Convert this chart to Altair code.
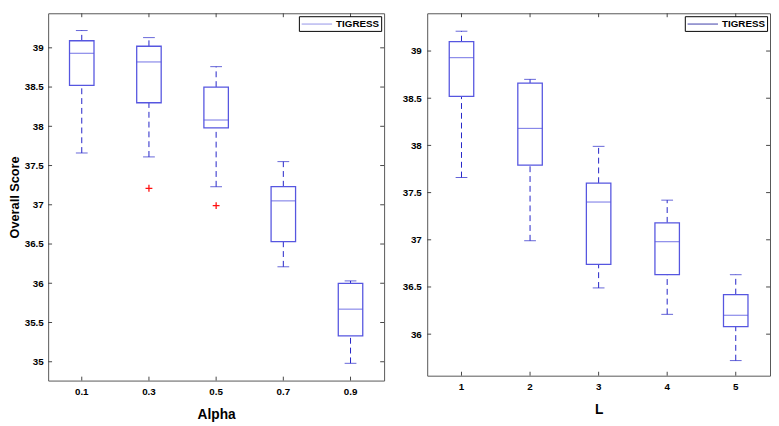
import altair as alt
import pandas as pd

# ---- data: left panel (Alpha) ----
alpha_cats = ["0.1", "0.3", "0.5", "0.7", "0.9"]
alpha_upper = [39.22, 39.13, 38.76, 37.55, 36.03]
alpha_q3 = [39.09, 39.02, 38.50, 37.23, 36.00]
alpha_med = [38.93, 38.82, 38.08, 37.05, 35.67]
alpha_q1 = [38.52, 38.30, 37.98, 36.53, 35.33]
alpha_lower = [37.66, 37.61, 37.23, 36.21, 34.98]
alpha_out_cats = ["0.3", "0.5"]
alpha_out_vals = [37.21, 36.99]
alpha_yticks = [35, 35.5, 36, 36.5, 37, 37.5, 38, 38.5, 39]
alpha_ydomain = [34.76, 39.44]

# ---- data: right panel (L) ----
l_cats = ["1", "2", "3", "4", "5"]
l_upper = [39.21, 38.70, 37.99, 37.42, 36.63]
l_q3 = [39.10, 38.66, 37.60, 37.18, 36.42]
l_med = [38.93, 38.18, 37.40, 36.98, 36.20]
l_q1 = [38.52, 37.79, 36.74, 36.63, 36.08]
l_lower = [37.66, 36.99, 36.49, 36.21, 35.72]
l_yticks = [36, 36.5, 37, 37.5, 38, 38.5, 39]
l_ydomain = [35.56, 39.40]

series = "TIGRESS"

FONT = "Liberation Sans"
BOX = "#5656e0"
WHISK = "#2222c8"
RED = "#ff1010"


def panel(cats, upper, q3, med, q1, lower, out_cats, out_vals, ydomain, yticks,
          xtitle, ytitle, W, H, legend_color, label_pad):
    df = pd.DataFrame(dict(cat=cats, upper=upper, q3=q3, med=med, q1=q1,
                           lower=lower, series=[series] * len(cats)))
    yt = pd.DataFrame(dict(tv=yticks))
    xt = pd.DataFrame(dict(cat=cats))

    xs = alt.X("cat:O", sort=cats,
               scale=alt.Scale(paddingInner=0, paddingOuter=0),
               axis=alt.Axis(title=xtitle, labelAngle=0, ticks=False, domain=False,
                             labelPadding=6, titlePadding=12, titleFontSize=14))
    yaxis = alt.Axis(values=yticks, format=".1~f", ticks=False, domain=False,
                     grid=False, labelPadding=label_pad, titlePadding=3,
                     titleFontSize=13)
    if ytitle:
        yaxis.title = ytitle
    else:
        yaxis.title = None
    ys = alt.Y("q3:Q", scale=alt.Scale(domain=ydomain, nice=False, zero=False),
               axis=yaxis)
    xc = alt.X("cat:O", sort=cats)

    base = alt.Chart(df)
    whisk_up = base.mark_rule(color=WHISK, strokeDash=[6, 4], strokeWidth=1).encode(
        x=xs, y=ys, y2="upper:Q")
    whisk_lo = base.mark_rule(color=WHISK, strokeDash=[6, 4], strokeWidth=1).encode(
        x=xc, y="lower:Q", y2="q1:Q")
    box = base.mark_bar(size=25, fill="white", stroke=BOX, strokeWidth=1.3).encode(
        x=xc, y="q1:Q", y2="q3:Q")
    cap_up = base.mark_tick(size=12, thickness=1, color=WHISK).encode(x=xc, y="upper:Q")
    cap_lo = base.mark_tick(size=12, thickness=1, color=WHISK).encode(x=xc, y="lower:Q")
    median = base.mark_tick(size=25, thickness=1.2).encode(
        x=xc, y="med:Q",
        color=alt.Color("series:N",
                        scale=alt.Scale(domain=[series], range=[BOX]),
                        legend=alt.Legend(title=None, orient="top-right", offset=3,
                                          strokeColor="black", fillColor="white",
                                          padding=2, symbolType="M-1,0H5",
                                          symbolSize=107,
                                          symbolStrokeColor=legend_color,
                                          symbolFillColor="transparent",
                                          symbolStrokeWidth=1.2,
                                          labelFont=FONT, labelFontSize=10,
                                          labelFontWeight="bold", labelColor="black",
                                          labelOffset=24)))
    layers = [whisk_up, whisk_lo, box, cap_up, cap_lo, median]

    if out_cats:
        od = pd.DataFrame(dict(cat=out_cats, ov=out_vals))
        outl = alt.Chart(od).mark_point(shape="M-1,0H1M0,-1V1", size=49, stroke=RED,
                                        color=RED, strokeWidth=1.3, filled=False,
                                        opacity=1).encode(x=xc, y="ov:Q")
        layers.append(outl)

    # inward tick marks on all four sides
    tk = dict(color="#444", strokeWidth=1)
    layers += [
        alt.Chart(yt).mark_rule(**tk).encode(y="tv:Q", x=alt.value(0), x2=alt.value(4)),
        alt.Chart(yt).mark_rule(**tk).encode(y="tv:Q", x=alt.value(W - 4), x2=alt.value(W)),
        alt.Chart(xt).mark_rule(**tk).encode(x=xc, y=alt.value(0), y2=alt.value(4)),
        alt.Chart(xt).mark_rule(**tk).encode(x=xc, y=alt.value(H - 4), y2=alt.value(H)),
    ]
    return alt.layer(*layers).properties(width=W, height=H)


left = panel(alpha_cats, alpha_upper, alpha_q3, alpha_med, alpha_q1, alpha_lower,
             alpha_out_cats, alpha_out_vals, alpha_ydomain, alpha_yticks,
             "Alpha", "Overall Score", 343, 375, "#8080e4", 5)
right = panel(l_cats, l_upper, l_q3, l_med, l_q1, l_lower,
              [], [], l_ydomain, l_yticks,
              "L", "", 350, 370, "#1a1a99", 6)

chart = alt.hconcat(left, right, spacing=17).resolve_scale(
    x="independent", y="independent", color="independent"
).resolve_legend(color="independent").configure_view(
    stroke="#555", strokeWidth=1
).configure_axis(
    labelFont=FONT, labelFontSize=10, labelFontWeight="bold", labelColor="black",
    titleFont=FONT, titleFontWeight="bold", titleColor="black"
).properties(padding=0, background="white")

chart.save("out.html", embed_options={"renderer": "svg", "actions": False})
